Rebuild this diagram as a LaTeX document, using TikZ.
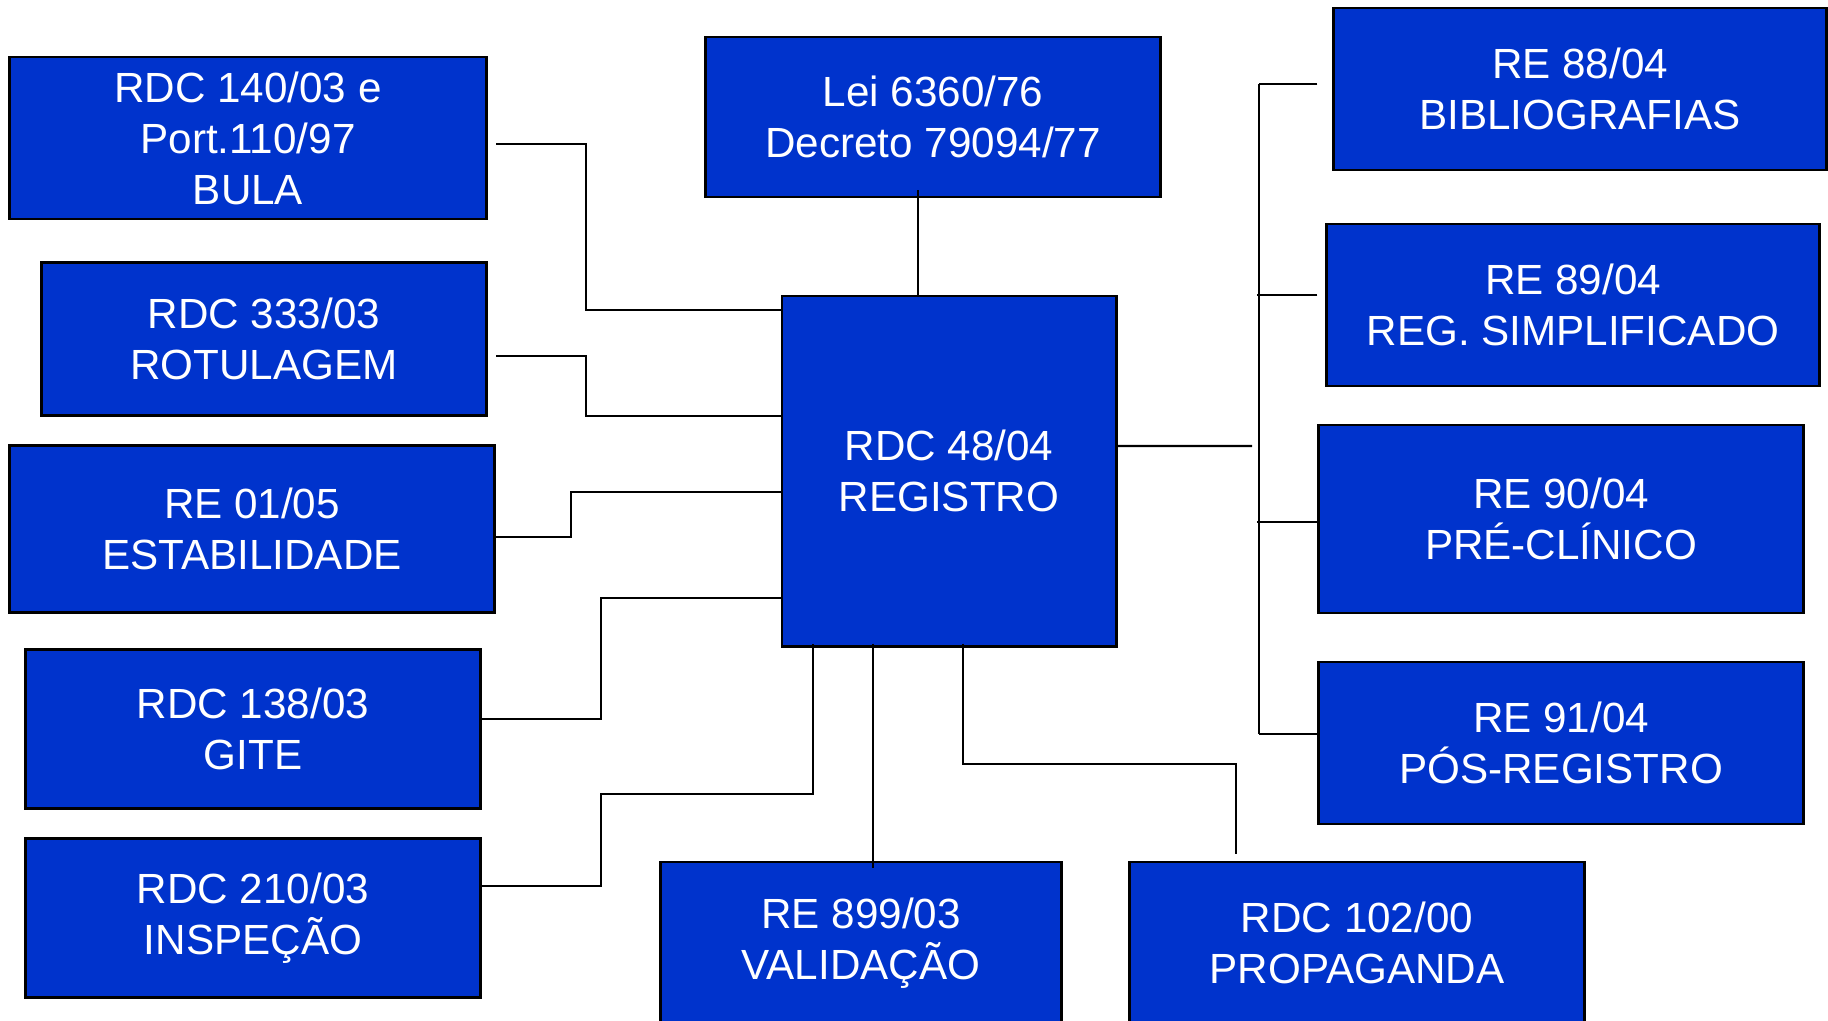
\documentclass[tikz,border=0pt]{standalone}
\usepackage{fontspec}
\setmainfont{Liberation Sans}
\definecolor{azul}{RGB}{0,51,204}

\begin{document}
\begin{tikzpicture}[
      x=0.01cm, y=-0.01cm,
      caixa/.style={draw=black, line width=0.8pt, fill=azul, text=white, align=center,
        inner sep=0pt, font=\fontsize{12}{14.5}\selectfont},
      liga/.style={draw=black, line width=0.6pt}
    ]
    \useasboundingbox (0,0) rectangle (1828,1020);

    % Caixa central
    \node[caixa, minimum width=3.34cm, minimum height=3.5cm] (registro) at (949,471) {RDC 48/04\\REGISTRO};
    \node[caixa, minimum width=4.55cm, minimum height=1.6cm] (lei) at (933,117) {Lei 6360/76\\Decreto 79094/77};

    % Lado esquerdo
    \node[caixa, minimum width=4.77cm, minimum height=1.62cm] (bula) at (248,138) {RDC 140/03 e\\Port.110/97\\BULA};
    \node[caixa, minimum width=4.45cm, minimum height=1.53cm] (rotul) at (264,339) {RDC 333/03\\ROTULAGEM};
    \node[caixa, minimum width=4.85cm, minimum height=1.67cm] (estab) at (252,529) {RE 01/05\\ESTABILIDADE};
    \node[caixa, minimum width=4.54cm, minimum height=1.59cm] (gite) at (253,729) {RDC 138/03\\GITE};
    \node[caixa, minimum width=4.54cm, minimum height=1.59cm] (insp) at (253,918) {RDC 210/03\\INSPEÇÃO};

    % Lado direito
    \node[caixa, minimum width=4.92cm, minimum height=1.62cm] (biblio) at (1580,89) {RE 88/04\\BIBLIOGRAFIAS};
    \node[caixa, minimum width=4.92cm, minimum height=1.62cm] (regsimp) at (1573,305) {RE 89/04\\REG. SIMPLIFICADO};
    \node[caixa, minimum width=4.85cm, minimum height=1.88cm] (precli) at (1561,519) {RE 90/04\\PRÉ-CLÍNICO};
    \node[caixa, minimum width=4.85cm, minimum height=1.62cm] (posreg) at (1561,743) {RE 91/04\\PÓS-REGISTRO};

    % Embaixo
    \node[caixa, minimum width=4.01cm, minimum height=1.62cm] (valid) at (861,943) {RE 899/03\\VALIDAÇÃO};
    \node[caixa, minimum width=4.54cm, minimum height=1.62cm] (propag) at (1357,943) {RDC 102/00\\PROPAGANDA};

    % Ligacoes esquerda
    \draw[liga] ([shift={(8,6)}]bula.east) -| (586,310) -- (registro.west |- 0,310);
    \draw[liga] ([shift={(8,17)}]rotul.east) -| (586,416) -- (registro.west |- 0,416);
    \draw[liga] ([shift={(0,8)}]estab.east) -| (571,492) -- (registro.west |- 0,492);
    \draw[liga] ([shift={(0,-10)}]gite.east) -| (601,598) -- (registro.west |- 0,598);
    \draw[liga] ([shift={(0,-32)}]insp.east) -| (601,794) -| ([shift={(-136,-4)}]registro.south);

    % Ligacao topo
    \draw[liga] ([shift={(-15,-8)}]lei.south) -- (registro.north -| 918,0);

    % Ligacoes direita
    \coordinate (fim) at (1252,446);
    \coordinate (bt) at (1259,84);
    \coordinate (bb) at (1259,734);
    \draw[liga] ([yshift=0.25cm]registro.east) -- (fim);
    \draw[liga] (bt) -- (bb);
    \draw[liga] ([shift={(-15,-5)}]biblio.west) -- (bt);
    \draw[liga] ([shift={(-8,-10)}]regsimp.west) -- +(-60,0);
    \draw[liga] ([shift={(0,3)}]precli.west) -- +(-60,0);
    \draw[liga] ([shift={(0,-9)}]posreg.west) -- (bb);

    % Ligacoes embaixo
    \draw[liga] ([shift={(-76,-4)}]registro.south) -- ([shift={(12,7)}]valid.north);
    \draw[liga] ([shift={(14,-4)}]registro.south) |- (1236,764) -- ([shift={(-121,-7)}]propag.north);

  \end{tikzpicture}
\end{document}
